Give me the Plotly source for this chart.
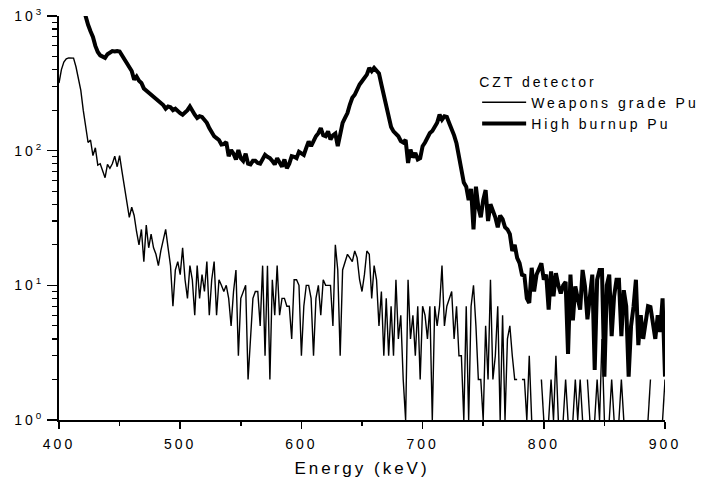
import plotly.graph_objects as go

# Weapons grade Pu (thin line), channel energies in keV and counts
weapons_energy = list(range(400, 901, 2))
weapons_counts = [
    318, 400, 455, 480, 489, 489, 487, 420, 350, 280,
    200, 155, 115, 120, 92, 105, 78, 80, 70, 63,
    79, 74, 80, 91, 76, 92, 70, 55, 42, 32,
    38, 33, 25, 20, 26, 15, 28, 19, 24, 19,
    17, 14, 18, 22, 26, 19, 14, 7, 13, 15,
    12, 19, 11, 8, 14, 11, 6, 14, 8, 12,
    9, 15, 6, 11, 15, 6, 11, 10, 9, 10,
    8, 5, 9, 13, 3, 8, 9, 10, 2, 4,
    8, 9, 9, 5, 14, 3, 14, 2, 11, 6,
    14, 6, 8, 8, 7, 7, 4, 11, 11, 10,
    3, 7, 10, 10, 8, 3, 8, 10, 6, 11,
    10, 10, 10, 5, 20, 13, 3, 13, 15, 17,
    16, 15, 18, 16, 11, 9, 12, 18, 17, 8,
    14, 11, 5, 9, 3, 8, 3, 7, 3, 11,
    4, 6, 2, 1, 11, 4, 6, 3, 7, 2,
    7, 6, 4, 7, 1, 7, 5, 7, 14, 5,
    7, 8, 9, 4, 7, 3, 3, 1, 7, 1,
    7, 10, 5, 2, 2, 1, 5, 2, 11, 2,
    3, 7, 1, 6, 1, 4, 5, 3, 2, 2,
    0, 2, 2, 1, 3, 1, 0, 0, 0, 2,
    1, 0, 1, 2, 1, 3, 1, 0, 1, 2,
    1, 0, 1, 2, 1, 2, 1, 0, 2, 1,
    0, 1, 2, 1, 4, 1, 0, 1, 2, 1,
    0, 1, 2, 1, 0, 0, 0, 0, 0, 0,
    0, 0, 0, 1, 2, 0, 0, 0, 0, 1,
    2,
]

# High burnup Pu (thick line)
burnup_energy = list(range(420, 901, 2))
burnup_counts = [
    1150, 980, 860, 770, 700, 600, 540, 510, 495, 489,
    520, 535, 549, 545, 550, 545, 510, 475, 449, 410,
    390, 337, 355, 330, 318, 290, 280, 270, 262, 253,
    240, 235, 226, 218, 205, 213, 210, 200, 205, 196,
    190, 185, 192, 200, 213, 195, 185, 175, 180, 178,
    168, 161, 147, 138, 128, 124, 120, 111, 112, 116,
    91, 101, 95, 86, 101, 88, 84, 95, 80, 79,
    84, 84, 81, 80, 88, 93, 90, 88, 84, 79,
    88, 82, 76, 86, 74, 80, 91, 90, 88, 98,
    95, 93, 105, 117, 108, 120, 128, 135, 147, 130,
    128, 139, 121, 130, 134, 108, 135, 161, 175, 190,
    220, 247, 260, 290, 310, 328, 350, 367, 412, 390,
    412, 395, 375, 310, 255, 213, 175, 150, 139, 132,
    128, 118, 115, 120, 81, 102, 89, 96, 86, 88,
    108, 115, 127, 135, 140, 150, 161, 185, 170, 180,
    178, 160, 145, 130, 113, 91, 76, 58, 54, 43,
    52, 26, 54, 38, 32, 43, 51, 30, 40, 36,
    32, 27, 33, 31, 27, 26, 24, 18, 20, 16,
    14.6, 12, 11.8, 8, 7.4, 13.5, 9, 12, 13, 14.6,
    11, 12, 6.6, 12.7, 8.3, 12.3, 10, 8.7, 10, 10.6,
    3.1, 12, 5.5, 9.8, 8, 6.6, 13, 9.8, 5.6, 9,
    12, 2.35, 11, 13, 13, 2.1, 10, 12, 4.2, 8.3,
    11, 11, 4.2, 9.2, 7, 2.1, 5, 6.9, 11, 3.6,
    6, 4, 5.5, 7, 6.9, 5, 4, 6, 4.5, 8,
    2.1,
]

x_ticks = [400, 500, 600, 700, 800, 900]
y_ticks = [1, 10, 100, 1000]
y_ticktext = ["10<sup>0</sup>", "10<sup>1</sup>", "10<sup>2</sup>", "10<sup>3</sup>"]
y_minor = [m * d for d in (1, 10, 100) for m in range(2, 10)]

FONT = "Liberation Sans, Arial, sans-serif"

fig = go.Figure()
fig.add_trace(go.Scatter(
    x=weapons_energy,
    y=[c if c > 0 else None for c in weapons_counts],
    mode="lines", name="Weapons grade Pu",
    line=dict(color="black", width=1.4),
    connectgaps=False,
))
fig.add_trace(go.Scatter(
    x=burnup_energy,
    y=burnup_counts,
    mode="lines", name="High burnup Pu",
    line=dict(color="black", width=4),
))

fig.update_layout(
    width=716, height=478,
    margin=dict(l=59, r=51, t=16, b=58),
    paper_bgcolor="white", plot_bgcolor="white",
    font=dict(family=FONT, size=14, color="black"),
    showlegend=True,
    legend=dict(
        title=dict(text="CZT detector", font=dict(size=14)),
        x=0.690, y=0.87, xanchor="left", yanchor="top",
        bgcolor="rgba(0,0,0,0)", font=dict(size=14),
        tracegroupgap=0, itemwidth=44,
    ),
    xaxis=dict(
        range=[400, 900], tickvals=x_ticks, automargin=False,
        showline=True, linecolor="black", linewidth=2,
        ticks="outside", ticklen=7, tickwidth=1.5, tickcolor="black",
        minor=dict(tickvals=[450, 550, 650, 750, 850], ticks="outside",
                   ticklen=4, tickwidth=1.5, tickcolor="black"),
        showgrid=False, zeroline=False,
        title=dict(text="Energy (keV)", standoff=12),
        tickfont=dict(size=14), ticklabelstandoff=3,
    ),
    yaxis=dict(
        type="log", range=[0, 3], automargin=False,
        tickvals=y_ticks, ticktext=y_ticktext,
        showline=True, linecolor="black", linewidth=2,
        ticks="outside", ticklen=10, tickwidth=1.5, tickcolor="black",
        minor=dict(tickvals=y_minor, ticks="outside",
                   ticklen=5, tickwidth=1.2, tickcolor="black"),
        showgrid=False, zeroline=False,
        tickfont=dict(size=14),
    ),
)

post = ("document.body.style.margin='0';"
        "var gd=document.getElementById('{plot_id}');"
        "gd.querySelectorAll('text').forEach(function(t){"
        "t.style.letterSpacing='3px';});"
        "gd.querySelectorAll('.legend [clip-path]').forEach(function(e){"
        "e.removeAttribute('clip-path');});")
fig.write_html("out.html", post_script=post,
               config={"displayModeBar": False, "staticPlot": True})
